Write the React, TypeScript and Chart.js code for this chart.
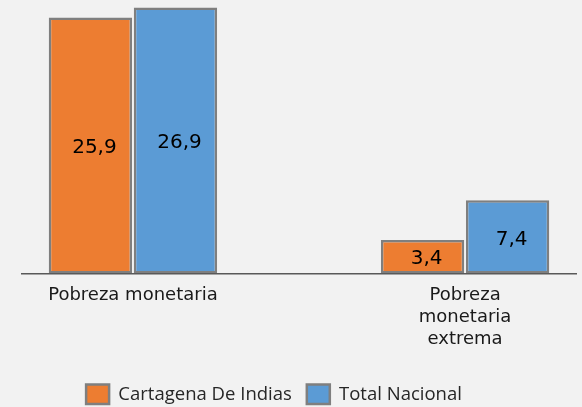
import React, { useEffect, useRef } from "react";
import { Chart, registerables } from "chart.js";

Chart.register(...registerables);

// ---- data ----
const categories: (string | string[])[] = [
  "Pobreza monetaria",
  ["Pobreza", "monetaria", "extrema"],
];
const seriesNames = ["Cartagena De Indias", "Total Nacional"];
const cartagena = [25.9, 3.4];
const totalNacional = [26.9, 7.4];

const fmt = (v: number) => v.toFixed(1).replace(".", ",");

const W = 582;
const H = 416;
const LEGEND_SHIFT_X = -25;
const LEGEND_SHIFT_Y = -2;

const barLabels = {
  id: "barLabels",
  afterDatasetsDraw(chart: any) {
    const ctx = chart.ctx;
    ctx.save();
    ctx.font = '20px "DejaVu Sans"';
    ctx.fillStyle = "#000000";
    ctx.textAlign = "center";
    ctx.textBaseline = "middle";
    chart.data.datasets.forEach((ds: any, di: number) => {
      const meta = chart.getDatasetMeta(di);
      meta.data.forEach((bar: any, i: number) => {
        const v = ds.data[i].y;
        ctx.fillText(fmt(v), bar.x + 4, (bar.y + bar.base) / 2 + 2.5);
      });
    });
    ctx.restore();
  },
};

const legendShift = {
  id: "legendShift",
  afterLayout(chart: any) {
    const l = chart.legend;
    if (l) {
      l.left += LEGEND_SHIFT_X;
      l.right += LEGEND_SHIFT_X;
      l.top += LEGEND_SHIFT_Y;
      l.bottom += LEGEND_SHIFT_Y;
    }
  },
};

export default function App() {
  const ref = useRef<HTMLCanvasElement | null>(null);

  useEffect(() => {
    if (!ref.current) return;
    const border = "#7f7f7f";
    const chart = new Chart(ref.current, {
      type: "bar",
      data: {
        datasets: [
          {
            label: seriesNames[0],
            data: cartagena.map((y, i) => ({ x: i, y })),
            backgroundColor: "#ED7D31",
            borderColor: border,
            borderWidth: 2.5,
            borderSkipped: false,
          },
          {
            label: seriesNames[1],
            data: totalNacional.map((y, i) => ({ x: i, y })),
            backgroundColor: "#5B9BD5",
            borderColor: border,
            borderWidth: 2.5,
            borderSkipped: false,
          },
        ],
      },
      options: {
        responsive: false,
        animation: false,
        devicePixelRatio: 1,
        categoryPercentage: 0.512,
        barPercentage: 0.98,
        layout: { padding: { left: 22, right: 6, top: 0, bottom: 0 } },
        scales: {
          x: {
            type: "linear",
            offset: false,
            min: -0.334,
            max: 1.334,
            grid: { display: false, drawTicks: false, offset: false },
            border: { display: true, color: "#595959", width: 1.5, z: 1 },
            afterBuildTicks: (scale: any) => {
              scale.ticks = categories.map((_, i) => ({ value: i }));
            },
            afterFit: (scale: any) => {
              scale.height = 98;
            },
            ticks: {
              autoSkip: false,
              maxRotation: 0,
              minRotation: 0,
              padding: 11,
              color: "#1a1a1a",
              font: { family: '"DejaVu Sans"', size: 18, lineHeight: 1.22 },
              callback: (value: any) => categories[value as number] as any,
            },
          },
          y: {
            display: false,
            min: 0,
            max: 27.66,
          },
        },
        plugins: {
          legend: {
            position: "bottom",
            labels: {
              boxWidth: 23,
              boxHeight: 19.5,
              padding: 15,
              color: "#262626",
              font: { family: '"Open Sans"', size: 18.5 },
            },
          },
          tooltip: { enabled: false },
        },
      },
      plugins: [barLabels, legendShift],
    } as any);
    return () => chart.destroy();
  }, []);

  return (
    <div
      style={{
        position: "fixed",
        left: 0,
        top: 0,
        width: "100vw",
        height: "100vh",
        background: "#F2F2F2",
        overflow: "hidden",
      }}
    >
      <canvas
        ref={ref}
        width={W}
        height={H}
        style={{ position: "absolute", left: 0, top: 0, width: W, height: H }}
      />
    </div>
  );
}
